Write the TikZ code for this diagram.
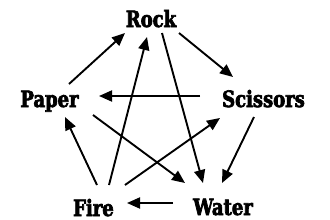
\documentclass[tikz,border=0pt]{standalone}
\usepackage{fontspec}
\newfontfamily\wordfont{DejaVu Serif Bold}[FakeStretch=0.8, FakeBold=3]
\usetikzlibrary{arrows.meta}

\begin{document}
\begin{tikzpicture}[
  x=1pt, y=-1pt,
  every node/.style={font=\wordfont\fontsize{22.5}{26}\selectfont,
    inner sep=0pt, anchor=base},
  arr/.style={-{Triangle[length=13pt, width=11pt]}, line width=1.9pt},
]
\useasboundingbox (0,0) rectangle (330,220);

%% the five words
\node (rock)     at (151,27)   {Rock};
\node (paper)    at (49.5,107) {Paper};
\node (scissors) at (263.5,107) {Scissors};
\node (fire)     at (93.5,216) {Fire};
\node (water)    at (223,215)  {Water};

%% outer ring
\draw[arr] ([shift={(19.5,-23)}]paper.base) -- ([shift={(-26,6)}]rock.base);
\draw[arr] ([shift={(28,6)}]rock.base) -- ([shift={(-30.5,-30)}]scissors.base);
\draw[arr] ([shift={(-9.5,10)}]scissors.base) -- ([shift={(-1,-32)}]water.base);
\draw[arr] ([shift={(-50,-12)}]water.base) -- ([shift={(33.5,-13)}]fire.base);
\draw[arr] ([shift={(3.5,-31)}]fire.base) -- ([shift={(15.5,10)}]paper.base);

%% inner star
\draw[arr] ([shift={(15.5,-31)}]fire.base) -- ([shift={(-4,10)}]rock.base);
\draw[arr] ([shift={(11,6)}]rock.base) -- ([shift={(-20,-32)}]water.base);
\draw[arr] ([shift={(-63.5,-11)}]scissors.base) -- ([shift={(49.5,-11)}]paper.base);
\draw[arr] ([shift={(43.5,8)}]paper.base) -- ([shift={(-38,-32)}]water.base);
\draw[arr] ([shift={(31.5,-31)}]fire.base) -- ([shift={(-43.5,11)}]scissors.base);

\end{tikzpicture}
\end{document}
